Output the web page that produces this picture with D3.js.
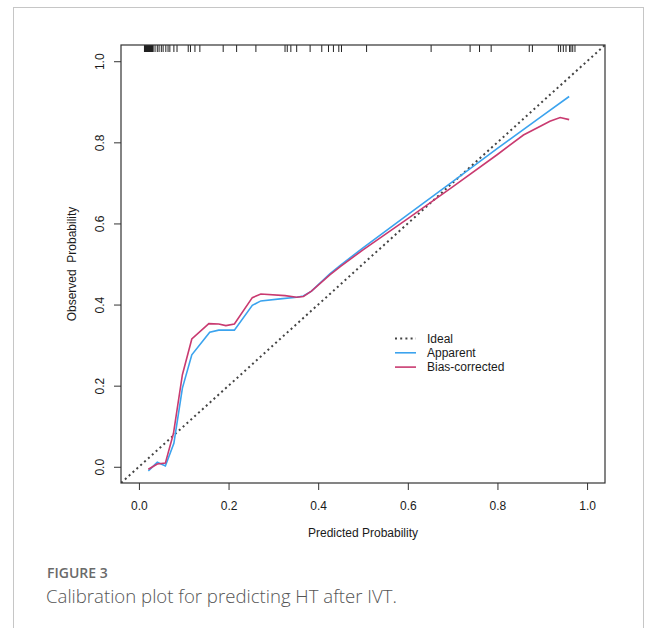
<!DOCTYPE html>
<html>
<head>
<meta charset="utf-8">
<script src="https://cdn.jsdelivr.net/npm/d3@7"></script>
<style>
  html, body { margin: 0; padding: 0; background: #fff; }
  svg { display: block; }
</style>
</head>
<body>
<div id="chart"></div>
<script>
// values
const apparentX = [0.021, 0.041, 0.059, 0.078, 0.097, 0.118, 0.158, 0.178, 0.213, 0.253, 0.272, 0.315, 0.352, 0.367, 0.385, 0.426, 0.45, 0.5, 0.6, 0.7, 0.8, 0.9, 0.96];
const apparentY = [-0.01, 0.011, 0.002, 0.058, 0.194, 0.276, 0.332, 0.337, 0.337, 0.398, 0.409, 0.414, 0.418, 0.421, 0.433, 0.476, 0.497, 0.540, 0.622, 0.703, 0.785, 0.865, 0.913];

const biasX = [0.021, 0.041, 0.059, 0.077, 0.097, 0.118, 0.156, 0.178, 0.194, 0.213, 0.253, 0.272, 0.326, 0.352, 0.367, 0.385, 0.426, 0.45, 0.5, 0.6, 0.7, 0.8, 0.858, 0.9, 0.917, 0.94, 0.96];
const biasY = [-0.006, 0.007, 0.009, 0.082, 0.227, 0.315, 0.353, 0.352, 0.348, 0.352, 0.417, 0.426, 0.422, 0.418, 0.420, 0.433, 0.473, 0.494, 0.535, 0.612, 0.690, 0.770, 0.818, 0.842, 0.852, 0.861, 0.856];

// rug of predicted probabilities (top of the plot)
const rugValues = [0.013, 0.014, 0.015, 0.016, 0.017, 0.018, 0.019, 0.020, 0.021, 0.022, 0.023, 0.024, 0.025, 0.026, 0.027, 0.028, 0.029, 0.030, 0.031,
  0.036, 0.041, 0.045, 0.050, 0.054, 0.060, 0.065, 0.069, 0.078, 0.085, 0.110, 0.115, 0.125, 0.136,
  0.188, 0.218, 0.261, 0.326, 0.331, 0.339, 0.352, 0.382, 0.408, 0.423, 0.434, 0.446, 0.452, 0.508,
  0.652, 0.739, 0.760, 0.786, 0.871, 0.878, 0.936, 0.941, 0.947, 0.953, 0.961, 0.964, 0.968, 0.973];

const xTicks = [0, 0.2, 0.4, 0.6, 0.8, 1.0];
const yTicks = [0, 0.2, 0.4, 0.6, 0.8, 1.0];
const legendLabels = ['Ideal', 'Apparent', 'Bias-corrected'];

const width = 656;
const height = 628;
const frame = { left: 121, right: 605, top: 45, bottom: 483 };
const blue = '#3ba3ee';
const red = '#c93a70';
const font = '"Liberation Sans", Arial, sans-serif';
const fs = 12;

const svg = d3.select('#chart')
  .append('svg')
  .attr('width', width)
  .attr('height', height);

// card border
svg.append('rect')
  .attr('x', 13.5).attr('y', 7.5)
  .attr('width', 630).attr('height', 640)
  .attr('fill', 'none')
  .attr('stroke', '#c6c6c6')
  .attr('stroke-width', 1);

const x = d3.scaleLinear().domain([-0.04, 1.04]).range([frame.left, frame.right]);
const y = d3.scaleLinear().domain([-0.04, 1.04]).range([frame.bottom, frame.top]);

svg.append('clipPath').attr('id', 'clip')
  .append('rect')
  .attr('x', frame.left).attr('y', frame.top)
  .attr('width', frame.right - frame.left)
  .attr('height', frame.bottom - frame.top);

// x axis
const xAxis = svg.append('g')
  .attr('transform', `translate(0,${frame.bottom})`)
  .call(d3.axisBottom(x).tickValues(xTicks).tickSize(7).tickPadding(11).tickFormat(d3.format('.1f')));
xAxis.select('.domain').remove();
xAxis.selectAll('line').attr('stroke', '#333');
xAxis.selectAll('text')
  .attr('font-family', font).attr('font-size', fs).attr('fill', '#1a1a1a');

// y axis, labels rotated like base R
const yAxis = svg.append('g')
  .attr('transform', `translate(${frame.left},0)`)
  .call(d3.axisLeft(y).tickValues(yTicks).tickSize(7).tickFormat(d3.format('.1f')));
yAxis.select('.domain').remove();
yAxis.selectAll('line').attr('stroke', '#333');
yAxis.selectAll('text')
  .attr('x', null).attr('dy', '0.35em')
  .attr('text-anchor', 'middle')
  .attr('transform', 'translate(-21,0) rotate(-90)')
  .attr('font-family', font).attr('font-size', fs).attr('fill', '#1a1a1a');

// axis titles
svg.append('text')
  .attr('x', (frame.left + frame.right) / 2)
  .attr('y', 537)
  .attr('text-anchor', 'middle')
  .attr('font-family', font).attr('font-size', fs).attr('fill', '#1a1a1a')
  .text('Predicted Probability');

svg.append('text')
  .attr('transform', `translate(76,${(frame.top + frame.bottom) / 2}) rotate(-90)`)
  .attr('text-anchor', 'middle')
  .attr('font-family', font).attr('font-size', fs).attr('fill', '#1a1a1a')
  .style('white-space', 'pre')
  .text('Observed  Probability');

const plot = svg.append('g').attr('clip-path', 'url(#clip)');

// ideal line
plot.append('line')
  .attr('x1', x(-0.1)).attr('y1', y(-0.1))
  .attr('x2', x(1.1)).attr('y2', y(1.1))
  .attr('stroke', '#444')
  .attr('stroke-width', 2)
  .attr('stroke-dasharray', '2,3.2');

const line = d3.line().x(d => x(d[0])).y(d => y(d[1]));

plot.append('path')
  .datum(d3.zip(apparentX, apparentY))
  .attr('fill', 'none').attr('stroke', blue).attr('stroke-width', 1.6)
  .attr('d', line);

plot.append('path')
  .datum(d3.zip(biasX, biasY))
  .attr('fill', 'none').attr('stroke', red).attr('stroke-width', 1.6)
  .attr('d', line);

// rug
svg.append('g')
  .selectAll('line')
  .data(rugValues)
  .join('line')
  .attr('x1', d => x(d)).attr('x2', d => x(d))
  .attr('y1', frame.top).attr('y2', frame.top + 7)
  .attr('stroke', '#222')
  .attr('stroke-width', d => (d < 0.032 ? 1.6 : 1));

// box
svg.append('rect')
  .attr('x', frame.left).attr('y', frame.top)
  .attr('width', frame.right - frame.left)
  .attr('height', frame.bottom - frame.top)
  .attr('fill', 'none').attr('stroke', '#333').attr('stroke-width', 1.2);

// legend
const legend = svg.append('g').attr('transform', 'translate(395,338.5)');
const legendStyles = [
  { color: '#444', dash: '2,3.2', w: 2 },
  { color: blue, dash: null, w: 1.6 },
  { color: red, dash: null, w: 1.6 },
];
legendLabels.forEach((label, i) => {
  const row = legend.append('g').attr('transform', `translate(0,${i * 14.3})`);
  row.append('line')
    .attr('x1', 0).attr('x2', 21)
    .attr('stroke', legendStyles[i].color)
    .attr('stroke-width', legendStyles[i].w)
    .attr('stroke-dasharray', legendStyles[i].dash);
  row.append('text')
    .attr('x', 32).attr('dy', '0.35em')
    .attr('font-family', font).attr('font-size', fs).attr('fill', '#1a1a1a')
    .text(label);
});

// caption
svg.append('text')
  .attr('x', 47).attr('y', 578)
  .attr('font-family', '"Open Sans", sans-serif')
  .attr('font-size', 14).attr('font-weight', 600)
  .attr('fill', '#6a6a6a')
  .text('FIGURE 3');

svg.append('text')
  .attr('x', 46).attr('y', 603)
  .attr('font-family', '"Open Sans", sans-serif')
  .attr('font-size', 18.6).attr('font-weight', 300)
  .attr('fill', '#555')
  .text('Calibration plot for predicting HT after IVT.');
</script>
</body>
</html>
